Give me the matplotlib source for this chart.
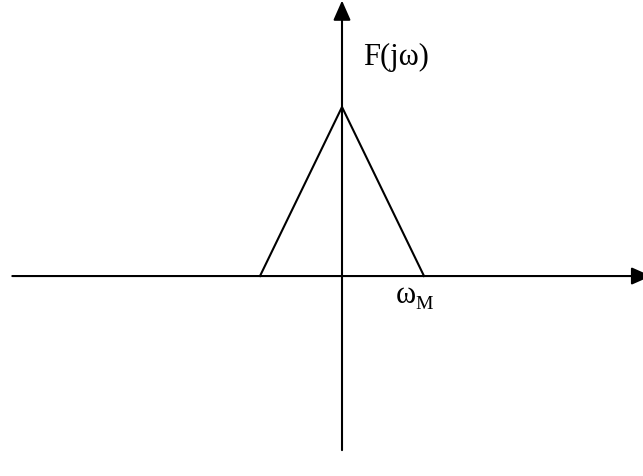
import matplotlib
matplotlib.use("Agg")
import matplotlib.pyplot as plt

# triangular spectrum, frequency in units of w_M, magnitude normalised to the peak
omega = [-1.0, 0.0, 1.0]
F = [0.0, 1.0, 0.0]

# extent of the drawn axes (same units)
x_axis = [-4.02, 3.77]
y_axis = [-1.03, 1.63]

dpi = 100
fig = plt.figure(figsize=(6.43, 4.77), dpi=dpi)
ax = fig.add_axes([0, 0, 1, 1])
ax.set_xlim(-4.17, 3.67)
ax.set_ylim(-1.183, 1.639)
ax.axis("off")

lw = 1.5
arrow = dict(arrowstyle="-|>,head_length=12,head_width=5.3", mutation_scale=1,
             color="black", lw=lw, shrinkA=0, shrinkB=0)

# horizontal and vertical axes with arrow heads
ax.annotate("", xy=(x_axis[1], 0), xytext=(x_axis[0], 0), arrowprops=arrow,
            annotation_clip=False)
ax.annotate("", xy=(0, y_axis[1]), xytext=(0, y_axis[0]), arrowprops=arrow,
            annotation_clip=False)

ax.plot(omega, F, color="black", lw=lw, solid_joinstyle="miter")

serif = ["Liberation Serif", "DejaVu Serif"]
ax.text(0.256, 1.254, "F(jω)", fontsize=22, family=serif, va="baseline", ha="left")
ax.text(0.659, -0.154, "ω", fontsize=22, family=serif, va="baseline", ha="left")
ax.text(0.90, -0.189, "M", fontsize=14, family=serif, va="baseline", ha="left")

fig.savefig("out.png", dpi=dpi)
